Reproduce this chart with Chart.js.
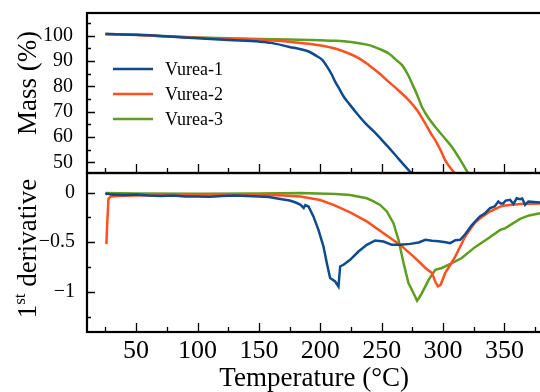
<!DOCTYPE html>
<html><head><meta charset="utf-8">
<script src="https://cdn.jsdelivr.net/npm/chart.js@4.4.1/dist/chart.umd.min.js"></script>
<style>
html,body{margin:0;padding:0;background:#fff;overflow:hidden;width:540px;height:392px;}
#top{position:absolute;left:0;top:0;}
#bot{position:absolute;left:0;top:160px;}
</style></head><body>
<canvas id="top" width="560" height="180"></canvas>
<canvas id="bot" width="560" height="232"></canvas>
<script>
// ---- data ----
const seriesNames = ['Vurea-1', 'Vurea-2', 'Vurea-3'];
const seriesColors = ['#0d4b8e', '#ff5020', '#5c9e1f'];

const massT1 = [25,50,75,100,125,150,160,175,185,191,197,202,205,209,212,215.3,219,223.4,230,237,244,250.4,256,261.3,267,273.4,276];
const mass1  = [100.7,100.4,99.8,99.0,98.3,97.7,97.2,95.6,94.6,93.7,92.0,90.3,88.2,85.0,82.0,79.2,76.0,73.2,69.2,65.3,62.0,58.7,55.7,52.8,49.6,46.2,44.8];
const massT2 = [25,50,75,100,125,150,175,199,212,223.4,232,239.6,248,255.8,264,272,279,285.6,290,293.7,298,301.8,306,309.9,312];
const mass2  = [100.7,100.3,99.7,99.2,98.8,98.5,97.6,96.3,95.0,93.0,91.0,88.4,85.2,81.8,78.3,74.6,70.5,65.3,61.5,58.7,54.8,50.8,47.8,45.5,44.0];
const massT3 = [25,50,75,100,125,150,175,200,212.6,225,239.6,248,255.8,261,266.6,271,274.7,279,282.8,288,293.7,300,307.2,314,320.7,323];
const mass3  = [100.7,100.4,99.8,99.3,99.0,98.7,98.5,98.2,98.0,97.5,96.3,94.8,93.0,90.8,88.4,85.0,81.2,76.5,71.9,67.6,64.0,60.3,56.1,51.0,45.5,44.0];

const derT1 = [25,26,30,40,50,60,70,80,90,100,110,120,130,140,150,158,165,175,180,183.7,186.5,187.8,190.4,194.4,198.5,202.6,205.3,208,212.1,214.8,216.2,218.9,224.3,231.1,237.9,244.7,251.5,258.3,265.1,273.2,280.1,285.6,291,296.4,302,305.8,310,313.9,318,323.3,330,334.2,338.3,342,345,347,349,351,354.6,357.3,360,362.7,364.5,366.8,369.5,374,379];
const der1  = [-0.02,-0.01,-0.02,-0.025,-0.02,-0.03,-0.035,-0.03,-0.04,-0.038,-0.042,-0.035,-0.03,-0.035,-0.04,-0.045,-0.06,-0.08,-0.1,-0.12,-0.155,-0.125,-0.14,-0.24,-0.376,-0.544,-0.71,-0.862,-0.896,-0.947,-0.745,-0.728,-0.678,-0.594,-0.527,-0.483,-0.493,-0.527,-0.527,-0.517,-0.503,-0.476,-0.485,-0.49,-0.5,-0.51,-0.48,-0.476,-0.42,-0.33,-0.24,-0.208,-0.157,-0.14,-0.09,-0.11,-0.11,-0.08,-0.073,-0.114,-0.057,-0.067,-0.06,-0.124,-0.09,-0.095,-0.1];
const derT2 = [25.8,26.5,27.5,29.4,35,50,75,100,125,150,158.6,170,183.7,199.9,210.8,224.3,237.9,251.5,265.1,276,281.5,285.6,291,293.7,295.8,298,301.8,305.8,309.9,318,326.1,330.2,336.9,346.5,350.4,362.7,379];
const der2  = [-0.52,-0.3,-0.06,-0.04,-0.035,-0.03,-0.025,-0.02,-0.02,-0.02,-0.025,-0.03,-0.04,-0.074,-0.124,-0.2,-0.29,-0.41,-0.527,-0.645,-0.71,-0.76,-0.81,-0.9,-0.946,-0.93,-0.81,-0.73,-0.645,-0.443,-0.3,-0.258,-0.2,-0.141,-0.13,-0.114,-0.11];
const derT3 = [25,50,100,150,183.7,212.6,224.3,237.9,243,248.7,254.2,259.6,263.7,267.8,271.8,275.9,278.8,280.5,282.8,288.2,293.7,299,307.2,315.2,326,336.9,346.5,350.4,362.7,370,379];
const der3  = [-0.005,-0.01,-0.012,-0.008,-0.005,-0.013,-0.023,-0.057,-0.085,-0.124,-0.19,-0.308,-0.476,-0.71,-0.912,-1.013,-1.09,-1.06,-1.013,-0.88,-0.778,-0.76,-0.71,-0.66,-0.55,-0.46,-0.376,-0.36,-0.265,-0.23,-0.208];

const xMajorTicks = [50,100,150,200,250,300,350];
const xMinorTicks = [25,75,125,175,225,275,325,375];
const massMajorTicks = [50,60,70,80,90,100];
const massMinorTicks = [55,65,75,85,95,105];
const derMajorTicks = [0,-0.5,-1];
const derTickLabels = ['0','\u22120.5','\u22121'];
const derMinorTicks = [-0.25,-0.75,-1.25];

const FONT = "'Liberation Serif','Times New Roman',serif";
const LEFT = 87;

function pts(xs, ys){ return xs.map((x,i)=>({x:x, y:ys[i]})); }

function framePlugin(yMaj, yMin, extra){
  return {
    id:'frame',
    afterDraw(chart){
      const {ctx, chartArea:a, scales} = chart;
      const xs = scales.x, ys = scales.y;
      ctx.save();
      ctx.strokeStyle = '#000';
      ctx.lineWidth = 1.3;
      ctx.beginPath();
      xMajorTicks.forEach(v=>{const p=Math.round(xs.getPixelForValue(v))+0.5; ctx.moveTo(p,a.bottom); ctx.lineTo(p,a.bottom-9);});
      xMinorTicks.forEach(v=>{const p=Math.round(xs.getPixelForValue(v))+0.5; ctx.moveTo(p,a.bottom); ctx.lineTo(p,a.bottom-5);});
      yMaj.forEach(v=>{const p=Math.round(ys.getPixelForValue(v))+0.5; ctx.moveTo(a.left,p); ctx.lineTo(a.left+8,p);});
      yMin.forEach(v=>{const p=Math.round(ys.getPixelForValue(v))+0.5; ctx.moveTo(a.left,p); ctx.lineTo(a.left+4,p);});
      ctx.stroke();
      ctx.lineWidth = 2.2;
      ctx.strokeRect(a.left, a.top, a.right-a.left, a.bottom-a.top);
      ctx.restore();
      if (extra) extra(chart);
    }
  };
}

function ds(xs, ys, i, mono){
  return {label:seriesNames[i], data:pts(xs,ys), borderColor:seriesColors[i], backgroundColor:seriesColors[i],
    borderWidth:2.5, pointRadius:0, fill:false, cubicInterpolationMode: mono ? 'monotone' : 'default', tension: 0};
}

function yTickFilter(vals){ return function(scale){ scale.ticks = vals.map(v=>({value:v})); }; }
function yFit(s){ s.width = LEFT; s.paddingTop = 0; s.paddingBottom = 0; }

const topExtra = function(chart){
  const ctx = chart.ctx;
  ctx.save();
  const ly = [69, 94, 119];
  seriesNames.forEach((n,i)=>{
    ctx.strokeStyle = seriesColors[i]; ctx.lineWidth = 2.5;
    ctx.beginPath(); ctx.moveTo(113, ly[i]); ctx.lineTo(153, ly[i]); ctx.stroke();
    ctx.fillStyle = '#000'; ctx.font = "18px " + FONT; ctx.textBaseline = 'middle'; ctx.textAlign='left';
    ctx.fillText(n, 165, ly[i]+1);
  });
  ctx.translate(36, 83); ctx.rotate(-Math.PI/2);
  ctx.font = "27px " + FONT; ctx.textAlign='center'; ctx.textBaseline='alphabetic'; ctx.fillStyle='#000';
  ctx.fillText('Mass (%)', 0, 0);
  ctx.restore();
};

const botExtra = function(chart){
  const ctx = chart.ctx;
  ctx.save();
  const cy = 248.5 - 160;
  ctx.translate(36, cy); ctx.rotate(-Math.PI/2);
  ctx.fillStyle='#000'; ctx.textBaseline='alphabetic'; ctx.textAlign='left';
  const big = "27px " + FONT, small = "17px " + FONT;
  ctx.font = big; const w1 = ctx.measureText('1').width, w3 = ctx.measureText(' derivative').width;
  ctx.font = small; const w2 = ctx.measureText('st').width;
  let x = -(w1+w2+w3)/2;
  ctx.font = big; ctx.fillText('1', x, 0); x += w1;
  ctx.font = small; ctx.fillText('st', x, -11); x += w2;
  ctx.font = big; ctx.fillText(' derivative', x, 0);
  ctx.restore();
};

Chart.defaults.animation = false;

new Chart(document.getElementById('top'), {
  type:'line',
  data:{datasets:[ds(massT1,mass1,0,true), ds(massT2,mass2,1,true), ds(massT3,mass3,2,true)]},
  options:{
    responsive:false, devicePixelRatio:1, animation:false,
    layout:{padding:{top:13,left:0,right:18.7,bottom:7}},
    plugins:{legend:{display:false}, tooltip:{enabled:false}},
    scales:{
      x:{type:'linear', min:10, max:380, display:false},
      y:{type:'linear', min:45.8, max:109,
        afterBuildTicks: yTickFilter(massMajorTicks),
        afterFit: yFit,
        grid:{display:false, drawTicks:false}, border:{display:false},
        ticks:{font:{family:FONT, size:20}, color:'#000', padding:14}}
    }
  },
  plugins:[framePlugin(massMajorTicks, massMinorTicks, topExtra)]
});

new Chart(document.getElementById('bot'), {
  type:'line',
  data:{datasets:[ds(derT1,der1,0,false), ds(derT2,der2,1,false), ds(derT3,der3,2,false)]},
  options:{
    responsive:false, devicePixelRatio:1, animation:false,
    layout:{padding:{top:13,left:0,right:18.7,bottom:0}},
    plugins:{legend:{display:false}, tooltip:{enabled:false}},
    scales:{
      x:{type:'linear', min:10, max:380,
        afterBuildTicks(s){ s.ticks = xMajorTicks.map(v=>({value:v})); },
        afterFit(s){ s.height = 60; s.paddingLeft = 0; s.paddingRight = 0; },
        grid:{display:false, drawTicks:false}, border:{display:false},
        ticks:{font:{family:FONT, size:26}, color:'#000', padding:4, maxRotation:0, autoSkip:false},
        title:{display:true, text:'Temperature (\u00B0C)', font:{family:FONT, size:27, lineHeight:1.0}, color:'#000', padding:{top:0,bottom:0}}
      },
      y:{type:'linear', min:-1.406, max:0.198,
        afterBuildTicks: yTickFilter(derMajorTicks),
        afterFit: yFit,
        grid:{display:false, drawTicks:false}, border:{display:false},
        ticks:{font:{family:FONT, size:20}, color:'#000', padding:12,
          callback:(v)=>{ const i = derMajorTicks.indexOf(v); return i>=0 ? derTickLabels[i] : ''; }}}
    }
  },
  plugins:[framePlugin(derMajorTicks, derMinorTicks, botExtra)]
});
</script>
</body></html>
